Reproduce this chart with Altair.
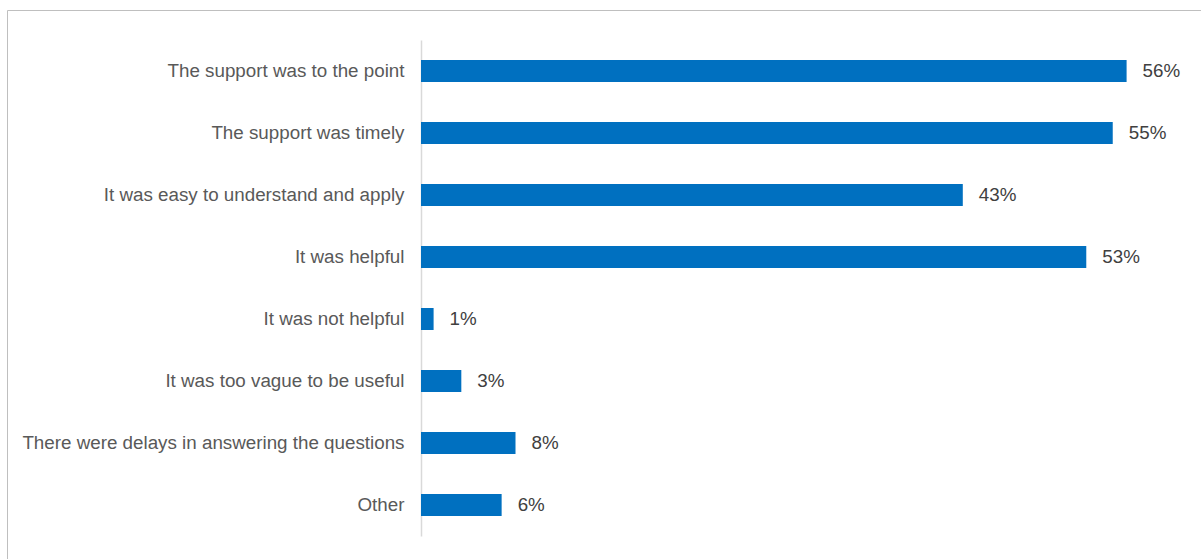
import altair as alt
import pandas as pd

categories = [
    "The support was to the point",
    "The support was timely",
    "It was easy to understand and apply",
    "It was helpful",
    "It was not helpful ",
    "It was too vague to be useful",
    "There were delays in answering the questions",
    "Other",
]
values = [56.0, 54.9, 43.0, 52.8, 1.0, 3.2, 7.5, 6.4]
labels = ["56%", "55%", "43%", "53%", "1%", "3%", "8%", "6%"]

df = pd.DataFrame({"category": categories, "value": values, "label": labels})

W, H = 756, 496
PAD_L, PAD_T = 421, 40

y_enc = alt.Y(
    "category:N",
    sort=categories,
    title=None,
    scale=alt.Scale(paddingInner=0.645, paddingOuter=0.3225),
    axis=alt.Axis(
        ticks=False,
        domainColor="#d9d9d9",
        domainWidth=1.5,
        labelFont="Liberation Sans",
        labelFontSize=18.8,
        labelFontWeight="normal",
        labelColor="#595959",
        labelPadding=17,
        labelLimit=500,
        labelBaseline="middle",
    ),
)
x_enc = alt.X("value:Q", scale=alt.Scale(domain=[0, 60]), axis=None)

bars = alt.Chart(df).mark_bar(color="#0070C0").encode(y=y_enc, x=x_enc)
text = alt.Chart(df).mark_text(
    align="left", baseline="middle", dx=16,
    font="Liberation Sans", fontSize=18.8, color="#404040",
).encode(y=alt.Y("category:N", sort=categories), x="value:Q", text="label:N")

frame = alt.Chart(alt.Data(values=[{"a": 1}])).mark_rect(
    fill=None, stroke="#bfbfbf", strokeWidth=1
).encode(
    x=alt.value(-PAD_L + 7.5), x2=alt.value(1000),
    y=alt.value(-PAD_T + 10.5), y2=alt.value(800),
)

chart = alt.layer(frame, bars, text).properties(
    width=W, height=H,
    autosize=alt.AutoSizeParams(type="none"),
    padding={"left": PAD_L, "top": PAD_T, "right": 1201 - PAD_L - W, "bottom": 559 - PAD_T - H},
    background="white",
).configure_view(stroke=None)

chart.save("out.html", embed_options={"renderer": "svg", "actions": False})
